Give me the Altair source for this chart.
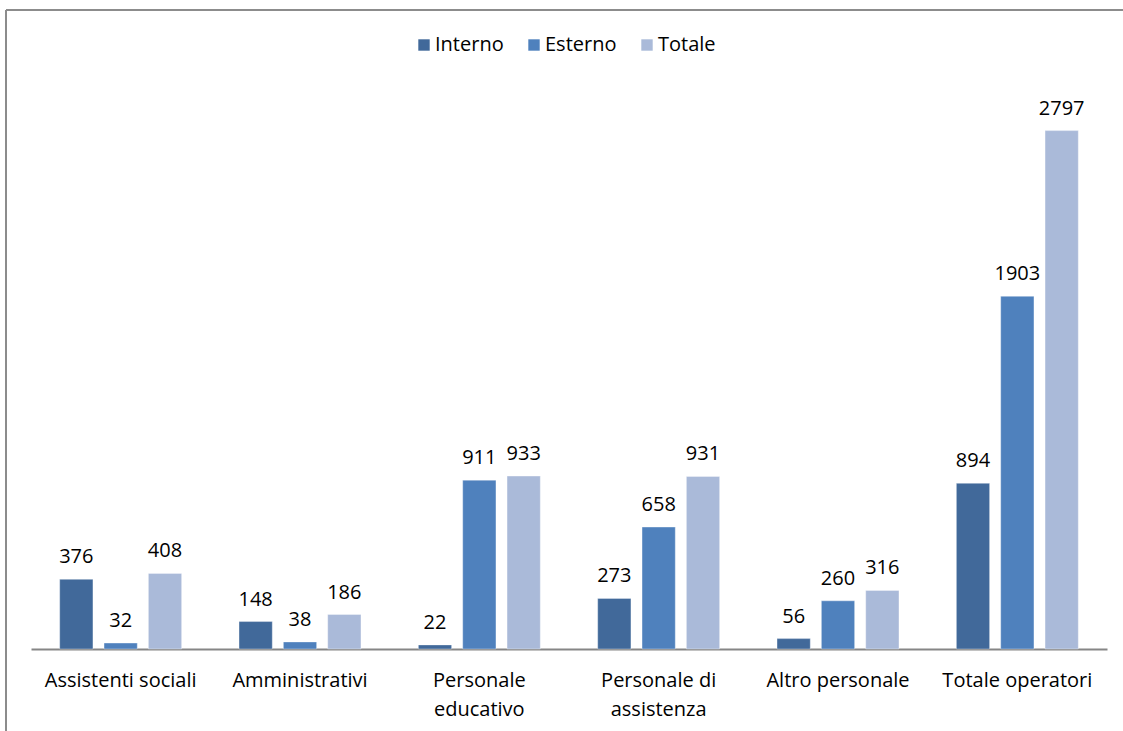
import altair as alt
import pandas as pd

# Personnel by role, split by internal / external staff
categories = [
    "Assistenti sociali",
    "Amministrativi",
    "Personale|educativo",
    "Personale di|assistenza",
    "Altro personale",
    "Totale operatori",
]
series = ["Interno", "Esterno", "Totale"]
interno = [376, 148, 22, 273, 56, 894]
esterno = [32, 38, 911, 658, 260, 1903]
totale = [408, 186, 933, 931, 316, 2797]
colors = ["#41699A", "#4F81BD", "#AABAD9"]

rows = []
for i, cat in enumerate(categories):
    for name, vals in zip(series, [interno, esterno, totale]):
        rows.append({"categoria": cat, "serie": name, "valore": vals[i]})
df = pd.DataFrame(rows)

FONT = "Open Sans"

x_enc = alt.X(
    "categoria:N",
    sort=categories,
    scale=alt.Scale(paddingInner=0.32, paddingOuter=0.16),
    axis=alt.Axis(
        title=None,
        labelExpr="split(datum.label, '|')",
        labelAngle=0,
        ticks=False,
        tickSize=0,
        labelPadding=21,
        labelFontSize=20,
        labelFont=FONT,
        labelColor="#000000",
        labelLineHeight=29,
        domainColor="#868686",
        domainWidth=2,
        grid=False,
    ),
)
xoff = alt.XOffset("serie:N", sort=series, scale=alt.Scale(paddingInner=0.25, paddingOuter=0))
y_enc = alt.Y("valore:Q", scale=alt.Scale(domain=[0, 3000], nice=False), axis=None)

bars = alt.Chart(df).mark_bar(stroke="#ffffff", strokeOpacity=0.35, strokeWidth=1).encode(
    x=x_enc,
    xOffset=xoff,
    y=y_enc,
    color=alt.Color(
        "serie:N",
        sort=series,
        scale=alt.Scale(domain=series, range=colors),
        legend=alt.Legend(
            title=None,
            orient="none",
            legendX=383,
            legendY=-58,
            direction="horizontal",
            symbolType="square",
            symbolSize=130,
            symbolStrokeWidth=0,
            labelFontSize=20,
            labelFont=FONT,
            labelColor="#000000",
            labelOffset=1,
            columnPadding=20,
        ),
    ),
)

labels = alt.Chart(df).mark_text(
    baseline="alphabetic", dy=-16, fontSize=20, font=FONT, color="#000000"
).encode(
    x=alt.X("categoria:N", sort=categories),
    xOffset=alt.XOffset("serie:N", sort=series),
    y=y_enc,
    text=alt.Text("valore:Q"),
)

# outer frame of the chart area (left and top edges)
frame_top = alt.Chart().mark_rule(color="#8C8C8C", strokeWidth=2).encode(
    x=alt.value(-25), x2=alt.value(1100), y=alt.value(-83)
)
frame_left = alt.Chart().mark_rule(color="#8C8C8C", strokeWidth=2).encode(
    x=alt.value(-25), y=alt.value(-83), y2=alt.value(700)
)

chart = (
    alt.layer(bars, labels, frame_top, frame_left)
    .properties(
        width=1076,
        height=556,
        background="#ffffff",
        autosize=alt.AutoSizeParams(type="none"),
        padding={"left": 31, "top": 93, "right": 16, "bottom": 82},
    )
    .configure_view(strokeWidth=0)
)

chart.save("out.html", embed_options={"renderer": "svg", "actions": False})
